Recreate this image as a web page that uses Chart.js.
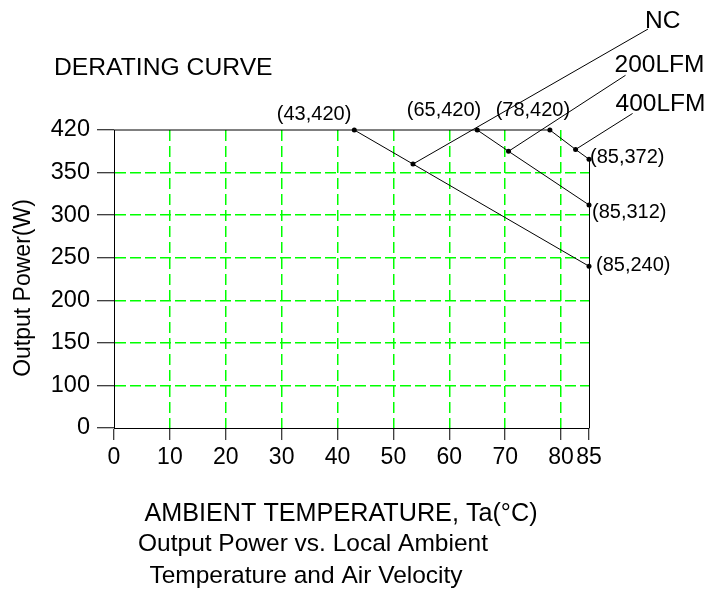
<!DOCTYPE html>
<html>
<head>
<meta charset="utf-8">
<title>Derating Curve</title>
<script src="https://cdn.jsdelivr.net/npm/chart.js@4.4.1/dist/chart.umd.min.js"></script>
<style>
  html, body { margin: 0; padding: 0; background: #fff; }
  #wrap { width: 707px; height: 591px; position: relative; }
</style>
</head>
<body>
<div id="wrap"><canvas id="myChart"></canvas></div>
<script>
// axis ticks: ambient temperature (°C) and output power (W)
let xTicks = [0, 10, 20, 30, 40, 50, 60, 70, 80, 85];
let yTicks = [0, 100, 150, 200, 250, 300, 350, 420];

// derating curves as (temperature, power); the middle point carries the callout line
let ncTemp = [43, 53.5, 85];
let ncPower = [420, 364, 240];
let lfm200Temp = [65, 70.6, 85];
let lfm200Power = [420, 385, 312];
let lfm400Temp = [0, 78, 82.6, 85];
let lfm400Power = [420, 420, 388, 372];

const FONT = '"Liberation Sans", Arial, sans-serif';

function toPoints(xs, ys) {
    return xs.map((v, i) => ({ x: v, y: ys[i] }));
}

// power axis: every gap between two ticks gets the same height
class SteppedScale extends Chart.LinearScale {
    toIndex(v) {
        let i = 0;
        while (i < yTicks.length - 2 && v > yTicks[i + 1]) i++;
        return i + (v - yTicks[i]) / (yTicks[i + 1] - yTicks[i]);
    }
    getPixelForValue(value) {
        return this.getPixelForDecimal(this.toIndex(value) / (yTicks.length - 1));
    }
    getValueForPixel(pixel) {
        let f = this.getDecimalForPixel(pixel) * (yTicks.length - 1);
        let i = Math.max(0, Math.min(yTicks.length - 2, Math.floor(f)));
        return yTicks[i] + (f - i) * (yTicks[i + 1] - yTicks[i]);
    }
    buildTicks() {
        return yTicks.map(v => ({ value: v }));
    }
}
SteppedScale.id = 'stepped';
SteppedScale.defaults = Chart.LinearScale.defaults;
Chart.register(SteppedScale);

// value labels and callouts, drawn next to the curve points
const pointLabels = [
    { t: ncTemp[0], p: ncPower[0], align: 'right', dx: -3, dy: -16 },
    { t: lfm200Temp[0], p: lfm200Power[0], align: 'right', dx: 4, dy: -20 },
    { t: lfm400Temp[1], p: lfm400Power[1], align: 'center', dx: -17, dy: -20 },
    { t: lfm400Temp[3], p: lfm400Power[3], align: 'left', dx: 1, dy: -2 },
    { t: lfm200Temp[2], p: lfm200Power[2], align: 'left', dx: 3, dy: 8 },
    { t: ncTemp[2], p: ncPower[2], align: 'left', dx: 7, dy: -1 }
];
const callouts = [
    { name: 'NC', t: ncTemp[1], p: ncPower[1], dx: 235, dy: -135, tx: -3, ty: -1 },
    { name: '200LFM', t: lfm200Temp[1], p: lfm200Power[1], dx: 117, dy: -76, tx: -11, ty: -3 },
    { name: '400LFM', t: lfm400Temp[2], p: lfm400Power[2], dx: 57, dy: -36, tx: -17, ty: -2 }
];

const annotate = {
    id: 'annotate',
    afterDatasetsDraw(chart) {
        const ctx = chart.ctx;
        const x = chart.scales.x, y = chart.scales.y;
        ctx.save();
        ctx.strokeStyle = '#000';
        ctx.fillStyle = '#000';
        ctx.lineWidth = 1;

        // right edge below the 400LFM end point
        let xr = Math.round(x.getPixelForValue(x.max)) + 0.5;
        ctx.beginPath();
        ctx.moveTo(xr, y.getPixelForValue(lfm400Power[lfm400Power.length - 1]));
        ctx.lineTo(xr, y.getPixelForValue(0));
        ctx.stroke();

        ctx.font = '20px ' + FONT;
        ctx.textBaseline = 'middle';
        pointLabels.forEach(l => {
            ctx.textAlign = l.align;
            ctx.fillText('(' + l.t + ',' + l.p + ')',
                x.getPixelForValue(l.t) + l.dx, y.getPixelForValue(l.p) + l.dy);
        });

        ctx.font = '24.5px ' + FONT;
        ctx.textAlign = 'left';
        ctx.textBaseline = 'alphabetic';
        callouts.forEach(c => {
            let px = x.getPixelForValue(c.t), py = y.getPixelForValue(c.p);
            ctx.beginPath();
            ctx.moveTo(px, py);
            ctx.lineTo(px + c.dx, py + c.dy);
            ctx.stroke();
            ctx.fillText(c.name, px + c.dx + c.tx, py + c.dy + c.ty);
        });

        // titles
        ctx.font = '24.7px ' + FONT;
        ctx.fillText('DERATING CURVE', 54, 75);
        ctx.textAlign = 'center';
        ctx.font = '25.2px ' + FONT;
        ctx.fillText('AMBIENT TEMPERATURE, Ta(°C)', 341, 521);
        ctx.font = '24.5px ' + FONT;
        ctx.fillText('Output Power vs. Local Ambient', 313, 551);
        ctx.fillText('Temperature and Air Velocity', 306, 583);

        ctx.font = '23px ' + FONT;
        ctx.translate(30, 288);
        ctx.rotate(-Math.PI / 2);
        ctx.fillText('Output Power(W)', 0, 0);
        ctx.restore();
    }
};

function curve(xs, ys, radii) {
    return {
        data: toPoints(xs, ys),
        borderColor: '#000',
        borderWidth: 1,
        pointRadius: radii,
        pointHoverRadius: radii,
        pointBackgroundColor: '#000',
        pointBorderWidth: 0,
        tension: 0,
        clip: false
    };
}

const ctx = document.getElementById('myChart').getContext('2d');
const myChart = new Chart(ctx, {
    type: 'line',
    data: {
        datasets: [
            curve(lfm400Temp, lfm400Power, [0, 2.5, 2.5, 2.5]),
            curve(lfm200Temp, lfm200Power, [2.5, 2.5, 2.5]),
            curve(ncTemp, ncPower, [2.5, 2.5, 2.5])
        ]
    },
    options: {
        responsive: true,
        maintainAspectRatio: false,
        animation: false,
        events: [],
        layout: { padding: { top: 130, right: 118, bottom: 0, left: 0 } },
        plugins: { legend: { display: false }, tooltip: { enabled: false } },
        scales: {
            x: {
                type: 'linear',
                min: 0,
                max: 85,
                afterBuildTicks: s => { s.ticks = xTicks.map(v => ({ value: v })); },
                afterFit: s => { s.height = 163; },
                grid: {
                    color: c => (c.tick && (c.tick.value === 0 || c.tick.value === 85)) ? 'rgba(0,0,0,0)' : '#00ff00',
                    lineWidth: 1.5,
                    tickColor: '#000',
                    tickWidth: 1,
                    tickLength: 12
                },
                border: { color: '#000', width: 1, dash: [11, 5] },
                ticks: {
                    autoSkip: false,
                    maxRotation: 0,
                    padding: 4,
                    color: '#000',
                    font: { family: FONT, size: 23 },
                    callback: v => String(v)
                }
            },
            y: {
                type: 'stepped',
                min: 0,
                max: 420,
                afterFit: s => { s.width = 114; },
                grid: {
                    color: c => (c.tick && (c.tick.value === 0 || c.tick.value === 420)) ? 'rgba(0,0,0,0)' : '#00ff00',
                    lineWidth: 1.5,
                    tickColor: '#000',
                    tickWidth: 1,
                    tickLength: 17
                },
                border: { color: '#000', width: 1, dash: [11, 4] },
                ticks: {
                    autoSkip: false,
                    padding: 7,
                    color: '#000',
                    font: { family: FONT, size: 23.5 },
                    callback: v => String(v)
                }
            }
        }
    },
    plugins: [annotate]
});
</script>
</body>
</html>
